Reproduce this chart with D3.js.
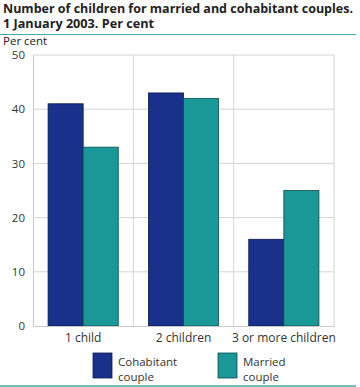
<!DOCTYPE html>
<html><head><meta charset="utf-8">
<script src="https://cdn.jsdelivr.net/npm/d3@7"></script>
<style>body{margin:0;background:#fff}svg{display:block;font-family:"Open Sans",sans-serif}</style>
</head><body>
<script>
const categories = ["1 child", "2 children", "3 or more children"];
const seriesNames = ["Cohabitant couple", "Married couple"];
const cohabitant = [41, 43, 16];
const married = [33, 42, 25];
const yTicks = [0, 10, 20, 30, 40, 50];
const colors = ["#1a318b", "#1a9797"];
const strokes = ["#0c1a4f", "#0d4d4d"];

const W = 360, H = 387;
const svg = d3.select("body").append("svg").attr("width", W).attr("height", H);

svg.append("text").attr("x", 3).attr("y", 12.5).attr("font-size", 11.5).attr("font-weight", "bold").attr("fill", "#222")
  .attr("textLength", 350).attr("lengthAdjust", "spacingAndGlyphs")
  .text("Number of children for married and cohabitant couples.");
svg.append("text").attr("x", 3).attr("y", 28.3).attr("font-size", 11.5).attr("font-weight", "bold").attr("fill", "#222")
  .attr("textLength", 151).attr("lengthAdjust", "spacingAndGlyphs")
  .text("1 January 2003. Per cent");
svg.append("line").attr("x1", 0).attr("x2", 356).attr("y1", 34.5).attr("y2", 34.5).attr("stroke", "#4aa8a8").attr("stroke-width", 1);
svg.append("text").attr("x", 3).attr("y", 44.5).attr("font-size", 11.5).attr("fill", "#222").text("Per cent");

const m = {l: 33, r: 334, t: 55, b: 326};
const x = d3.scaleBand().domain(categories).range([m.l, m.r]);
const xs = d3.scaleBand().domain(seriesNames).range([0, x.bandwidth()]).paddingInner(0).paddingOuter(0.43);
const y = d3.scaleLinear().domain([0, 50]).range([m.b, m.t]);

const g = svg.append("g");
g.selectAll(".hg").data(yTicks.filter(d => d > 0)).join("line")
  .attr("x1", m.l).attr("x2", m.r).attr("y1", d => y(d)).attr("y2", d => y(d))
  .attr("stroke", "#d4d4d4").attr("stroke-width", 1);
g.selectAll(".vg").data(categories).join("line")
  .attr("x1", d => x(d) + x.step()).attr("x2", d => x(d) + x.step())
  .attr("y1", m.t).attr("y2", m.b).attr("stroke", "#d4d4d4");

const yAxis = d3.axisLeft(y).tickValues(yTicks).tickSize(0).tickPadding(8);
const ya = svg.append("g").attr("transform", `translate(${m.l},0)`).call(yAxis);
ya.select(".domain").attr("stroke", "#c8c8c8");
ya.selectAll("text").attr("font-size", 11.5).attr("fill", "#333").attr("font-family", "Open Sans, sans-serif");

const rows = categories.map((c, i) => ({c, vals: [cohabitant[i], married[i]]}));
const grp = svg.selectAll(".grp").data(rows).join("g").attr("transform", d => `translate(${x(d.c)},0)`);
grp.selectAll("rect").data(d => d.vals.map((v, k) => ({v, k}))).join("rect")
  .attr("x", d => xs(seriesNames[d.k])).attr("width", xs.bandwidth())
  .attr("y", d => y(d.v)).attr("height", d => y(0) - y(d.v))
  .attr("fill", d => colors[d.k]).attr("stroke", d => strokes[d.k]).attr("stroke-width", 0.8);

const xAxis = d3.axisBottom(x).tickSize(0).tickPadding(7);
const xa = svg.append("g").attr("transform", `translate(0,${m.b})`).call(xAxis);
xa.select(".domain").attr("stroke", "#c8c8c8");
xa.selectAll("text").attr("font-size", 12).attr("fill", "#333").attr("font-family", "Open Sans, sans-serif");

const legX = [93, 218];
seriesNames.forEach((s, k) => {
  svg.append("rect").attr("x", legX[k]).attr("y", 353).attr("width", 19).attr("height", 25)
    .attr("fill", colors[k]).attr("stroke", strokes[k]).attr("stroke-width", 0.8);
  const parts = s.split(" ");
  parts.forEach((p, j) => {
    svg.append("text").attr("x", legX[k] + 25).attr("y", 366 + j * 15).attr("font-size", 11.5).attr("fill", "#333").text(p);
  });
});
svg.append("line").attr("x1", 0).attr("x2", 356).attr("y1", 386).attr("y2", 386).attr("stroke", "#4aa8a8").attr("stroke-width", 1.5);
</script>
</body></html>
